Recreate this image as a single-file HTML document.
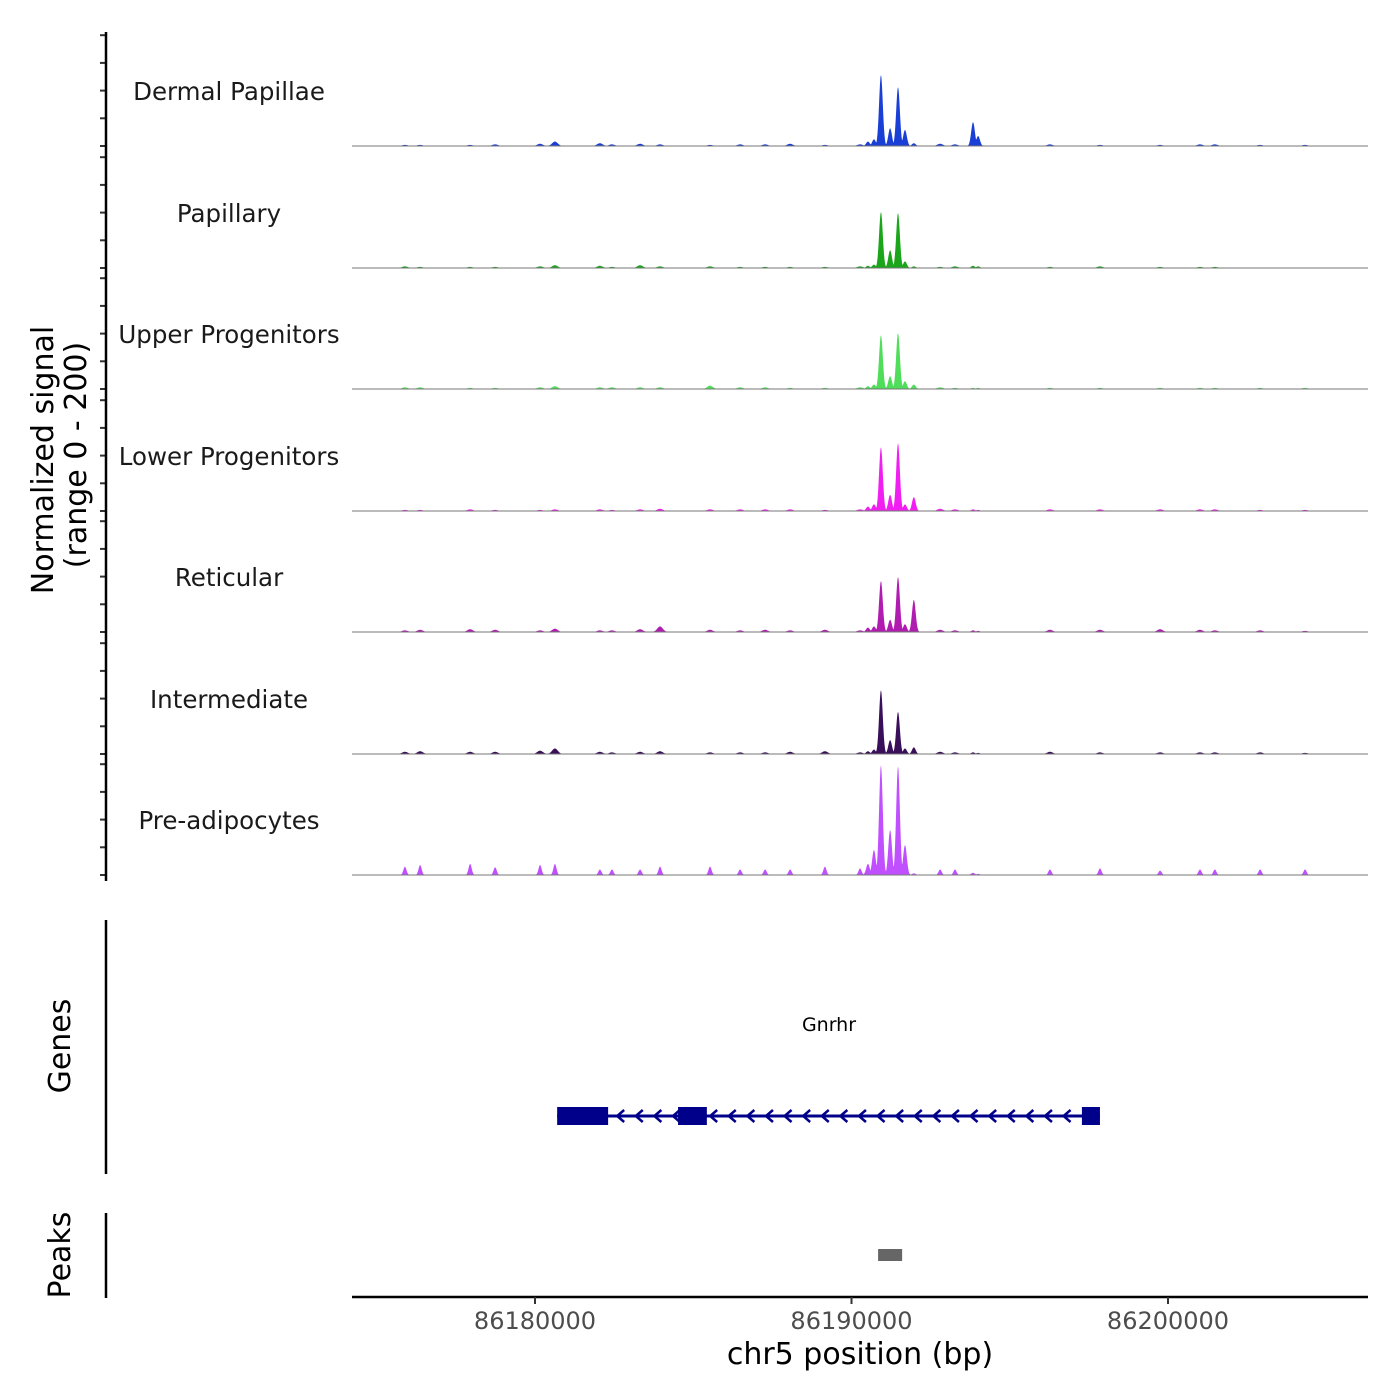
<!DOCTYPE html>
<html><head><meta charset="utf-8"><style>
html,body{margin:0;padding:0;background:#fff;}
svg{display:block;font-family:"DejaVu Sans","Liberation Sans",sans-serif;}
</style></head><body>
<svg id="chart" width="1400" height="1400" viewBox="0 0 1400 1400" xmlns="http://www.w3.org/2000/svg">
<g id="tracks"></g>
<g id="axes"></g>
</svg>
<script>
const trackNames = ["Dermal Papillae","Papillary","Upper Progenitors","Lower Progenitors","Reticular","Intermediate","Pre-adipocytes"];
const trackColors = ["#1a3fd6","#1aa51a","#4fdd5a","#f01ef0","#b01cb0","#3a0f5a","#c050ff"];
const mainPos = [86190.52,86190.71,86190.93,86191.22,86191.47,86191.69,86191.97,86193.84,86194.0];
const mainHeights = [
 [8,12,128,32,106,29,5,43,18],
 [4,6,101,32,99,12,3,4,3],
 [5,8,97,23,101,14,8,2,2],
 [8,12,115,29,122,12,25,3,2],
 [8,10,92,22,99,14,58,3,2],
 [5,8,115,25,76,10,12,3,2],
 [20,45,198,81,196,54,3,4,2]
];
const noisePos = [86175.89,86176.37,86177.95,86178.74,86180.16,86180.63,86182.05,86182.43,86183.32,86183.95,86185.53,86186.48,86187.27,86188.06,86189.16,86190.27,86192.80,86193.27,86196.27,86197.85,86199.75,86201.01,86201.48,86202.91,86204.33];
const noiseHeights = [
 [2,2,2,3,4,8,5,3,4,3,2,3,3,4,2,3,4,3,3,2,2,3,3,2,2],
 [3,2,2,2,3,5,4,2,5,3,3,2,2,2,2,3,2,3,2,3,2,2,2,1,1],
 [3,3,2,2,3,5,3,3,3,3,6,3,3,2,2,3,3,2,2,2,2,2,2,2,2],
 [2,2,3,2,2,3,3,2,3,4,3,3,3,3,2,3,4,3,3,3,3,3,3,2,2],
 [3,4,5,4,3,6,3,3,5,10,4,3,4,3,4,3,4,3,4,4,5,4,3,3,2],
 [4,5,4,4,6,10,4,3,4,5,3,3,3,4,5,3,4,3,4,3,3,3,3,3,2],
 [15,18,20,14,18,20,10,10,10,15,15,10,10,10,15,12,10,10,10,12,8,10,10,10,10]
];
const xTicks = [86180000,86190000,86200000];
const geneExons = [[86180.70,86182.31],[86184.52,86185.43],[86197.28,86197.85]];
const geneSpan = [86180.70,86197.85];
const peakRegions = [[86190.84,86191.60]];

const NS="http://www.w3.org/2000/svg";
const xKb = kb => 535 + (kb-86180)*31.65;
const xBp = bp => xKb(bp/1000);
const baselines=[146,268,389,511,632,754,875];
const yScale = v => v*111/200;
function el(tag,attrs,parent,text){const e=document.createElementNS(NS,tag);for(const k in attrs)e.setAttribute(k,attrs[k]);if(text!==undefined)e.textContent=text;parent.appendChild(e);return e;}
const tracks=document.getElementById('tracks');
const axes=document.getElementById('axes');

trackNames.forEach((name,t)=>{
  const b=baselines[t];
  const g=el('g',{},tracks);
  
  
  const peaks=[];
  mainPos.forEach((p,i)=>peaks.push([xKb(p),yScale(mainHeights[t][i]),2.6]));
  noisePos.forEach((p,i)=>peaks.push([xKb(p),yScale(noiseHeights[t][i]),t===6?2.2:4]));
  let d='M352,'+b;
  for(let x=352;x<=1368;x+=0.5){
    let h=0;for(const pk of peaks){const v=pk[1]*Math.exp(-Math.pow((x-pk[0])/pk[2],2));if(v>h)h=v;}
    d+=' L'+x+','+(b-h).toFixed(2);
  }
  d+=' L1368,'+b+' Z';
  const area=el('path',{d:d,fill:trackColors[t]},g);
  
  
  const bl=el('line',{x1:352,x2:1368,y1:b,y2:b,stroke:'#777','stroke-width':1},g);
  
  
  const lab=el('text',{x:229,y:b-46,'text-anchor':'middle','font-size':24.5,fill:'#1a1a1a'},g,name);
  
  
  for(let k=0;k<5;k++){
    const ty=b-k*27.7;
    const tk=el('line',{x1:100,x2:106,y1:ty,y2:ty,stroke:'#333','stroke-width':2},axes);
    
    
  }
});
let a1=el('line',{x1:106,x2:106,y1:32,y2:881,stroke:'#000','stroke-width':2.5},axes);

let a2=el('line',{x1:106,x2:106,y1:920,y2:1174,stroke:'#000','stroke-width':2.5},axes);

let a3=el('line',{x1:106,x2:106,y1:1213,y2:1298,stroke:'#000','stroke-width':2.5},axes);

let yt=el('text',{x:0,y:0,transform:'translate(53,460) rotate(-90)','text-anchor':'middle','font-size':30,fill:'#000'},axes,'Normalized signal');

let yt2=el('text',{x:0,y:0,transform:'translate(86,455) rotate(-90)','text-anchor':'middle','font-size':30,fill:'#000'},axes,'(range 0 - 200)');

let gt=el('text',{x:0,y:0,transform:'translate(70,1046) rotate(-90)','text-anchor':'middle','font-size':30,fill:'#000'},axes,'Genes');

let pt=el('text',{x:0,y:0,transform:'translate(70,1255) rotate(-90)','text-anchor':'middle','font-size':30,fill:'#000'},axes,'Peaks');


const gg=el('g',{},axes);


el('line',{x1:xKb(geneSpan[0]),x2:xKb(geneSpan[1]),y1:1116,y2:1116,stroke:'#00008b','stroke-width':3},gg);
for(let x=xKb(geneSpan[0])+62;x<xKb(geneSpan[1])-6;x+=18.6){
  el('path',{d:`M${x+5},1110 L${x-2},1116 L${x+5},1122`,fill:'none',stroke:'#00008b','stroke-width':2.5},gg);
}
geneExons.forEach(e=>{
  const r=el('rect',{x:xKb(e[0]),y:1107,width:xKb(e[1])-xKb(e[0]),height:18,fill:'#00008b'},gg);
  
  
});
let gl=el('text',{x:829,y:1031,'text-anchor':'middle','font-size':19,fill:'#000'},gg,'Gnrhr');


peakRegions.forEach(p=>{
  const r=el('rect',{x:xKb(p[0]),y:1249,width:xKb(p[1])-xKb(p[0]),height:12,fill:'#666'},axes);
  
  
});

let xa=el('line',{x1:352,x2:1368,y1:1297,y2:1297,stroke:'#000','stroke-width':2.5},axes);

xTicks.forEach(v=>{
  const x=xBp(v);
  const tk=el('line',{x1:x,x2:x,y1:1297,y2:1304,stroke:'#333','stroke-width':2},axes);
  
  const tl=el('text',{x:x,y:1329,'text-anchor':'middle','font-size':24,fill:'#4d4d4d'},axes,String(v));
  
});
let xt=el('text',{x:860,y:1364,'text-anchor':'middle','font-size':30,fill:'#000'},axes,'chr5 position (bp)');

</script>
</body></html>
